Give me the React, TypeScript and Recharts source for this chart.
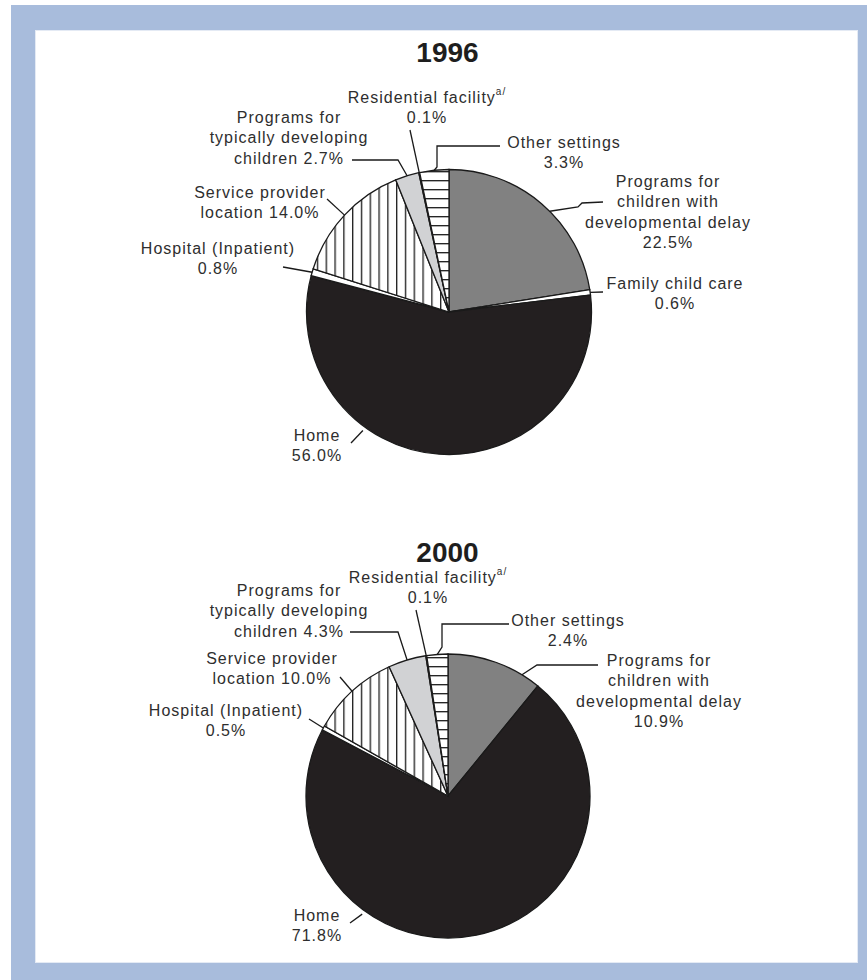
import React from 'react';
import { PieChart, Pie, Cell } from 'recharts';

// ---- data ----
const years = ['1996', '2000'];

const settings1996 = [
  'Programs for children with developmental delay',
  'Family child care',
  'Home',
  'Hospital (Inpatient)',
  'Service provider location',
  'Programs for typically developing children',
  'Residential facility',
  'Other settings',
];
const values1996 = [22.5, 0.6, 56.0, 0.8, 14.0, 2.7, 0.1, 3.3];

const settings2000 = [
  'Programs for children with developmental delay',
  'Home',
  'Hospital (Inpatient)',
  'Service provider location',
  'Programs for typically developing children',
  'Residential facility',
  'Other settings',
];
const values2000 = [10.9, 71.8, 0.5, 10.0, 4.3, 0.1, 2.4];

const labelText: Record<string, string[]> = {
  'Programs for children with developmental delay': ['Programs for', 'children with', 'developmental delay', '{v}%'],
  'Family child care': ['Family child care', '{v}%'],
  Home: ['Home', '{v}%'],
  'Hospital (Inpatient)': ['Hospital (Inpatient)', '{v}%'],
  'Service provider location': ['Service provider', 'location {v}%'],
  'Programs for typically developing children': ['Programs for', 'typically developing', 'children {v}%'],
  'Residential facility': ['Residential facility^a/', '{v}%'],
  'Other settings': ['Other settings', '{v}%'],
};

// ---- styles ----
const fillBySetting: Record<string, string> = {
  'Programs for children with developmental delay': '#818181',
  'Family child care': '#ffffff',
  Home: '#231f20',
  'Hospital (Inpatient)': '#ffffff',
  'Service provider location': 'url(#vstripes)',
  'Programs for typically developing children': '#d1d2d4',
  'Residential facility': '#ffffff',
  'Other settings': 'url(#hstripes)',
};

type PathPt = 'arc' | [number, number];
type Layout = { tx: number; ty: number; path: PathPt[]; angle?: number; pad?: number };

const layout1996: Record<string, Layout> = {
  'Programs for children with developmental delay': { tx: 219, ty: -131, path: ['arc', [129, -105], [133, -109], [154, -110]], angle: 45 },
  'Family child care': { tx: 226, ty: -29, path: ['arc', [154, -20]] },
  Home: { tx: -132, ty: 123, path: [[-98, 131], 'arc'], angle: 234, pad: 4 },
  'Hospital (Inpatient)': { tx: -231, ty: -64, path: [[-166, -45], 'arc'] },
  'Service provider location': { tx: -189, ty: -120, path: [[-122, -113], 'arc'] },
  'Programs for typically developing children': { tx: -160, ty: -195, path: [[-97, -152], [-51, -152], 'arc'] },
  'Residential facility': { tx: -22, ty: -215, path: [[-39, -182], 'arc'] },
  'Other settings': { tx: 115, ty: -170, path: ['arc', [-12, -145], [-12, -166], [51, -166]] },
};

const layout2000: Record<string, Layout> = {
  'Programs for children with developmental delay': { tx: 211, ty: -136, path: ['arc', [89, -131], [150, -131]], angle: 58.6 },
  Home: { tx: -131, ty: 119, path: [[-98, 127], 'arc'], angle: 234, pad: 4 },
  'Hospital (Inpatient)': { tx: -222, ty: -86, path: [[-139, -77], 'arc'] },
  'Service provider location': { tx: -176, ty: -138, path: [[-108, -119], 'arc'] },
  'Programs for typically developing children': { tx: -159, ty: -206, path: [[-98, -164], [-50, -164], 'arc'] },
  'Residential facility': { tx: -20, ty: -219, path: [[-32, -186], 'arc'] },
  'Other settings': { tx: 120, ty: -176, path: ['arc', [-6, -149], [-6, -172], [61, -172]] },
};

const LINE_H = 20.5;
const FONT = '"Liberation Sans", Arial, sans-serif';
const RAD = Math.PI / 180;

function makeLabel(layouts: Record<string, Layout>) {
  return (props: any) => {
    const { cx, cy, midAngle, outerRadius, name, value, payload } = props;
    const key = name ?? payload?.name;
    const lay = layouts[key];
    if (!lay) return null;
    const ang = lay.angle ?? midAngle;
    const r = outerRadius + (lay.pad ?? 0);
    const ax = cx + r * Math.cos(-ang * RAD);
    const ay = cy + r * Math.sin(-ang * RAD);
    const pts = lay.path
      .map((p) => (p === 'arc' ? `${ax},${ay}` : `${cx + p[0]},${cy + p[1]}`))
      .join(' ');
    const v = Number(value ?? payload?.value).toFixed(1);
    const lines = labelText[key] || [key];
    return (
      <g>
        <polyline points={pts} fill="none" stroke="#1a1a1a" strokeWidth={1.3} />
        {lines.map((ln, i) => {
          const txt = ln.replace('{v}', v);
          const parts = txt.split('^');
          return (
            <text
              key={i}
              x={cx + lay.tx}
              y={cy + lay.ty + i * LINE_H}
              textAnchor="middle"
              dominantBaseline="central"
              fontFamily={FONT}
              fontSize={16}
              letterSpacing={1}
              fill="#2e2e2e"
            >
              {parts[0]}
              {parts[1] ? (
                <tspan fontSize={10} dy={-6}>
                  {parts[1]}
                </tspan>
              ) : null}
            </text>
          );
        })}
      </g>
    );
  };
}

const data1996 = settings1996.map((s, i) => ({ name: s, value: values1996[i] }));
const data2000 = settings2000.map((s, i) => ({ name: s, value: values2000[i] }));

export default function App() {
  return (
    <div style={{ position: 'absolute', left: 0, top: 0, width: 867, height: 980, background: '#ffffff', overflow: 'hidden' }}>
      <div style={{ position: 'absolute', left: 11, top: 5, width: 856, height: 975, background: '#a8bcdc' }} />
      <div
        style={{
          position: 'absolute',
          left: 35,
          top: 30,
          width: 821,
          height: 931,
          background: '#ffffff',
          border: '1px solid #e4eaf4',
        }}
      />
      <div
        style={{
          position: 'absolute',
          left: 0,
          width: 895,
          top: 38,
          textAlign: 'center',
          fontFamily: FONT,
          fontWeight: 'bold',
          fontSize: 28,
          color: '#1e1e1e',
          lineHeight: '30px',
        }}
      >
        {years[0]}
      </div>
      <div
        style={{
          position: 'absolute',
          left: 0,
          width: 895,
          top: 538,
          textAlign: 'center',
          fontFamily: FONT,
          fontWeight: 'bold',
          fontSize: 28,
          color: '#1e1e1e',
          lineHeight: '30px',
        }}
      >
        {years[1]}
      </div>
      <div style={{ position: 'absolute', left: 0, top: 0 }}>
        <PieChart width={867} height={980} margin={{ top: 0, right: 0, bottom: 0, left: 0 }}>
          <defs>
            <pattern id="vstripes" patternUnits="userSpaceOnUse" width={8.8} height={10}>
              <rect x={0} y={0} width={8.8} height={10} fill="#ffffff" />
              <line x1={0.7} y1={0} x2={0.7} y2={10} stroke="#1a1a1a" strokeWidth={1.3} />
            </pattern>
            <pattern id="hstripes" patternUnits="userSpaceOnUse" width={10} height={9}>
              <rect x={0} y={0} width={10} height={9} fill="#ffffff" />
              <line x1={0} y1={0.7} x2={10} y2={0.7} stroke="#1a1a1a" strokeWidth={1.3} />
            </pattern>
          </defs>
          <Pie
            data={data1996}
            dataKey="value"
            nameKey="name"
            cx={449}
            cy={312}
            innerRadius={0}
            outerRadius={142.5}
            startAngle={90}
            endAngle={-270}
            stroke="#1a1a1a"
            strokeWidth={1.3}
            isAnimationActive={false}
            labelLine={false}
            label={makeLabel(layout1996)}
          >
            {data1996.map((d) => (
              <Cell key={d.name} fill={fillBySetting[d.name]} stroke="#1a1a1a" strokeWidth={1.3} />
            ))}
          </Pie>
          <Pie
            data={data2000}
            dataKey="value"
            nameKey="name"
            cx={448}
            cy={796}
            innerRadius={0}
            outerRadius={142}
            startAngle={90}
            endAngle={-270}
            stroke="#1a1a1a"
            strokeWidth={1.3}
            isAnimationActive={false}
            labelLine={false}
            label={makeLabel(layout2000)}
          >
            {data2000.map((d) => (
              <Cell key={d.name} fill={fillBySetting[d.name]} stroke="#1a1a1a" strokeWidth={1.3} />
            ))}
          </Pie>
        </PieChart>
      </div>
    </div>
  );
}
